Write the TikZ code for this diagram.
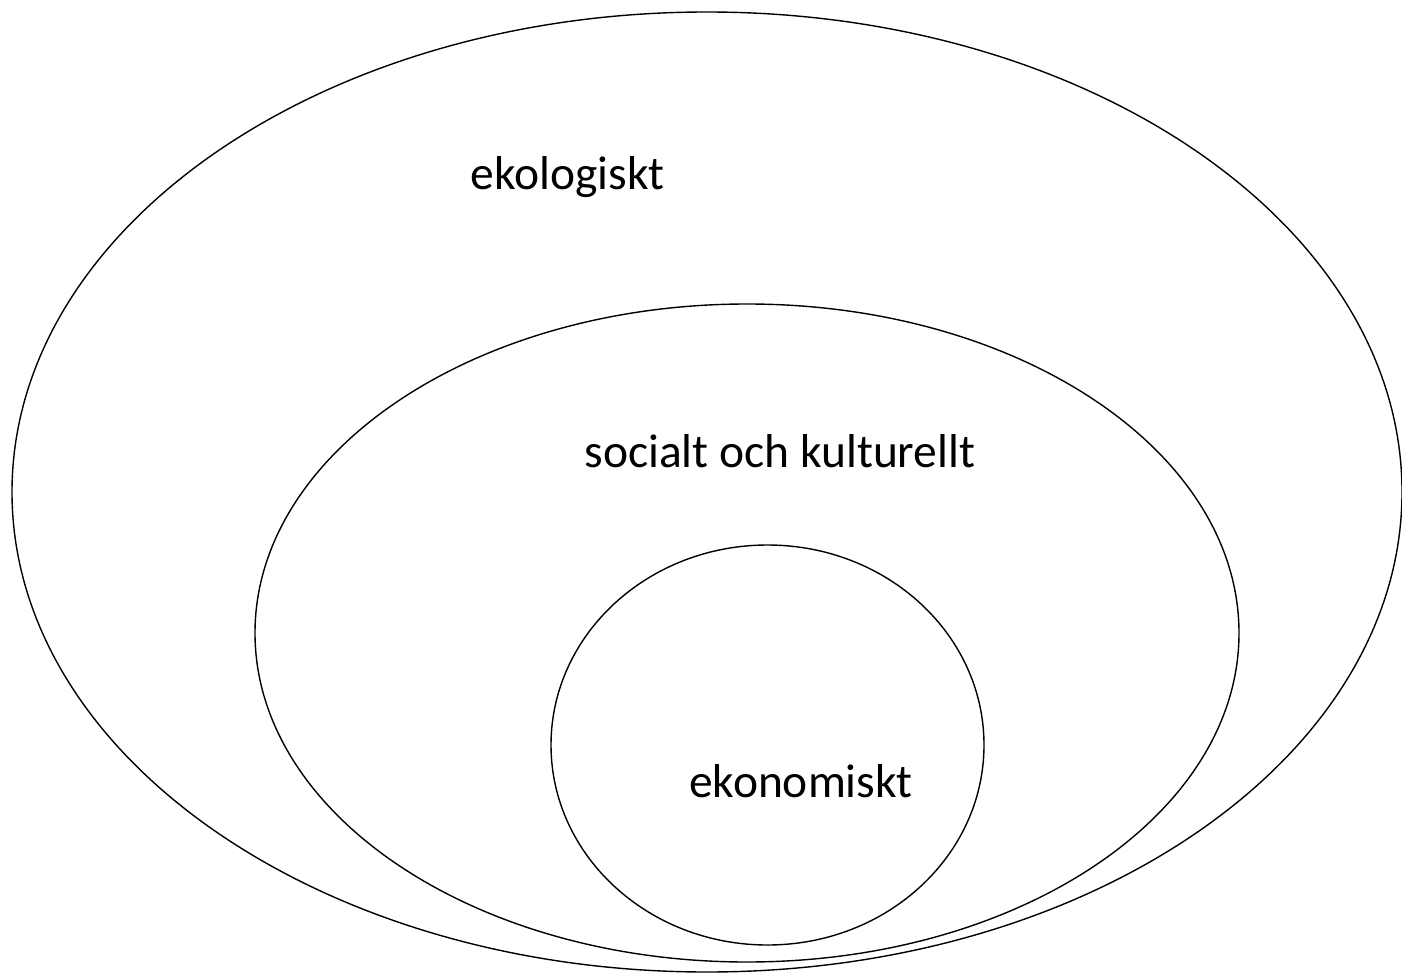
\documentclass[tikz,border=0pt]{standalone}
\usepackage{fontspec}
\setmainfont{Carlito}
\begin{document}
\begin{tikzpicture}[x=1pt,y=-1pt,
  ring/.style={draw=black,line width=1.4pt},
  lbl/.style={anchor=base,inner sep=0pt,font=\fontsize{47.5}{57}\selectfont}]
\useasboundingbox (0,0) rectangle (1402,976);
\draw[ring] (707,492) ellipse [x radius=695, y radius=480];
\draw[ring] (747,633) ellipse [x radius=492, y radius=329];
\draw[ring] (767.5,745) ellipse [x radius=216.5, y radius=200];
\node[lbl] (eko) at (567.5,190) {ekologiskt};
\node[lbl] (soc) at (780,467) {socialt och kulturellt};
\node[lbl] (ekn) at (801,797) {ekonomiskt};
\end{tikzpicture}
\end{document}
